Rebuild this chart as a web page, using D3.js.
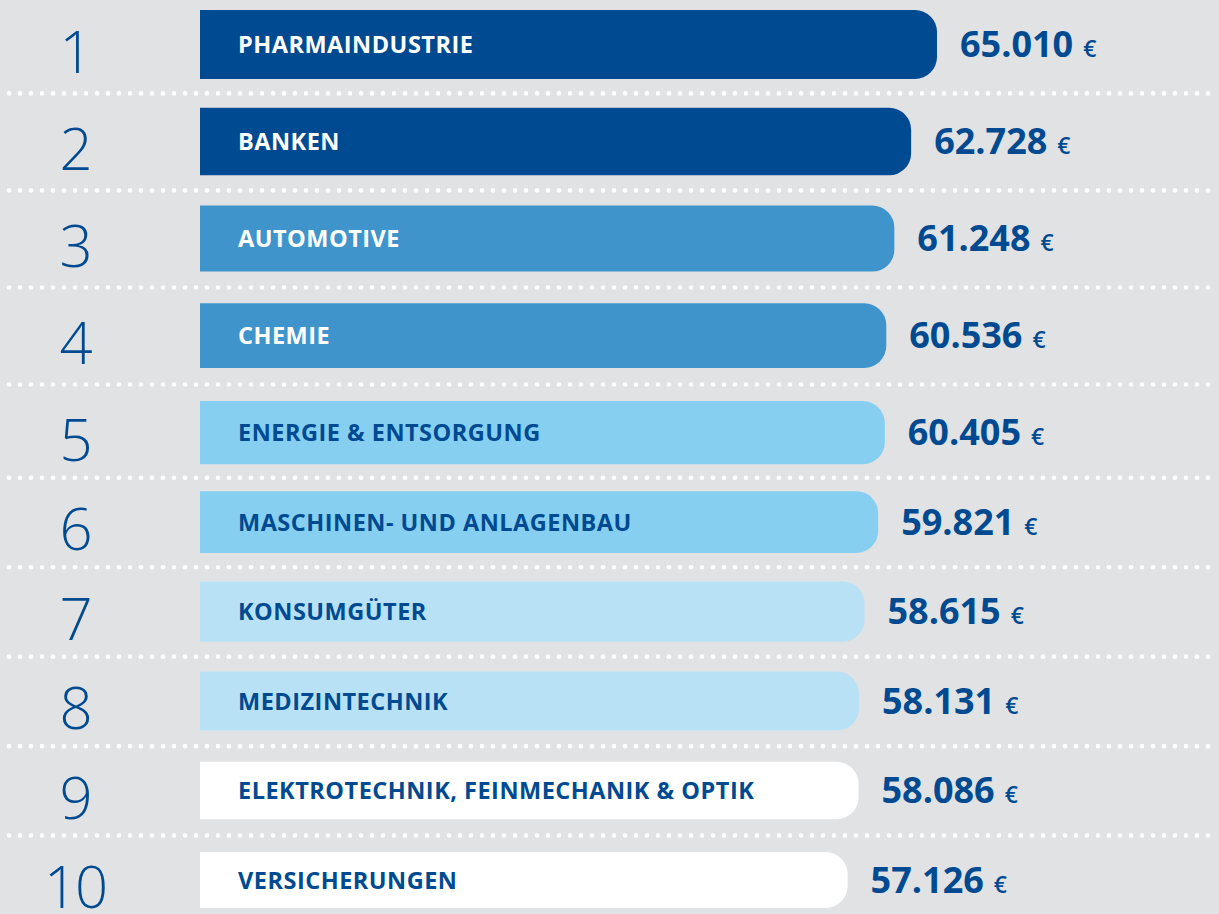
<!DOCTYPE html>
<html>
<head>
<meta charset="utf-8">
<script src="https://cdn.jsdelivr.net/npm/d3@7"></script>
<style>
  body { margin: 0; background: #e1e2e4; }
  svg { display: block; }
</style>
</head>
<body>
<script>
const width = 1219;
const height = 914;

const ranks = [1, 2, 3, 4, 5, 6, 7, 8, 9, 10];
const industries = [
  "PHARMAINDUSTRIE",
  "BANKEN",
  "AUTOMOTIVE",
  "CHEMIE",
  "ENERGIE & ENTSORGUNG",
  "MASCHINEN- UND ANLAGENBAU",
  "KONSUMGÜTER",
  "MEDIZINTECHNIK",
  "ELEKTROTECHNIK, FEINMECHANIK & OPTIK",
  "VERSICHERUNGEN",
];
const salaries = [65010, 62728, 61248, 60536, 60405, 59821, 58615, 58131, 58086, 57126];
const tiers = [0, 0, 1, 1, 2, 2, 3, 3, 4, 4];

const darkBlue = "#004a91";
const tierFill = ["#004a91", "#3f95cb", "#87cff0", "#b8e1f5", "#ffffff"];
const tierText = ["#ffffff", "#ffffff", darkBlue, darkBlue, darkBlue];

const fmt = d3.formatLocale({ decimal: ",", thousands: ".", grouping: [3], currency: ["", "€"] }).format(",d");

const svg = d3
  .select("body")
  .append("svg")
  .attr("width", width)
  .attr("height", height);

// rows get a bit tighter towards the bottom
const rowTop = d3.scaleLinear().domain([0, 4, 9]).range([10, 401, 852]);
const rowH = d3.scaleLinear().domain([0, 9]).range([69, 56]);
const x = d3.scaleLinear().domain([0, d3.max(salaries)]).range([0, 737]);
const x0 = 200;
const r = 22;

const rows = ranks.map((rank, i) => ({
  rank,
  name: industries[i],
  value: salaries[i],
  tier: tiers[i],
  y: rowTop(i),
  h: rowH(i),
  w: x(salaries[i]),
}));

// dotted separators
svg
  .selectAll("line.sep")
  .data(rows.slice(0, -1))
  .join("line")
  .attr("class", "sep")
  .attr("x1", 9)
  .attr("x2", width)
  .attr("y1", (d, i) => (d.y + d.h + rows[i + 1].y) / 2)
  .attr("y2", (d, i) => (d.y + d.h + rows[i + 1].y) / 2)
  .attr("stroke", "#ffffff")
  .attr("stroke-width", 4.6)
  .attr("stroke-linecap", "round")
  .attr("stroke-dasharray", "0 11");

// bar with rounded right end only
function barPath(d) {
  const w = d.w, h = d.h;
  return `M${x0},${d.y}H${x0 + w - r}A${r},${r} 0 0 1 ${x0 + w},${d.y + r}` +
    `V${d.y + h - r}A${r},${r} 0 0 1 ${x0 + w - r},${d.y + h}H${x0}Z`;
}

svg
  .selectAll("path.bar")
  .data(rows)
  .join("path")
  .attr("class", "bar")
  .attr("d", barPath)
  .attr("fill", (d) => tierFill[d.tier]);

svg
  .selectAll("text.name")
  .data(rows)
  .join("text")
  .attr("class", "name")
  .attr("x", 238)
  .attr("y", (d) => d.y + d.h / 2 + 8.5)
  .attr("font-family", "'Open Sans', 'Noto Sans', sans-serif")
  .attr("font-weight", 700)
  .attr("font-size", 23.5)
  .attr("letter-spacing", 0.5)
  .attr("fill", (d) => tierText[d.tier])
  .text((d) => d.name);

svg
  .selectAll("text.rank")
  .data(rows)
  .join("text")
  .attr("class", "rank")
  .attr("x", 75)
  .attr("y", (d) => d.y + d.h / 2 + 28)
  .attr("text-anchor", "middle")
  .attr("font-family", "'Open Sans', 'Lato', sans-serif")
  .attr("font-weight", 300)
  .attr("font-size", 58)
  .attr("letter-spacing", -2)
  .attr("fill", darkBlue)
  .text((d) => d.rank);

const val = svg
  .selectAll("text.val")
  .data(rows)
  .join("text")
  .attr("class", "val")
  .attr("x", (d) => x0 + d.w + 23)
  .attr("y", (d) => d.y + d.h / 2 + 12.5)
  .attr("font-family", "'Open Sans', 'Noto Sans', sans-serif")
  .attr("fill", darkBlue);

val
  .append("tspan")
  .attr("font-weight", 700)
  .attr("font-size", 36)
  .text((d) => fmt(d.value));

val
  .append("tspan")
  .attr("dx", 10)
  .attr("font-weight", 600)
  .attr("font-size", 23)
  .text("€");
</script>
</body>
</html>
